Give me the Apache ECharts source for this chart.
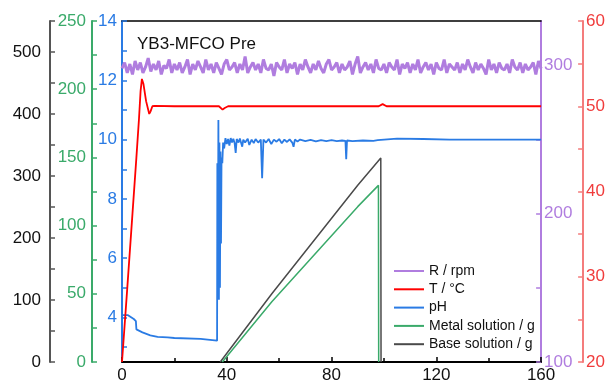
<!DOCTYPE html>
<html>
<head>
<meta charset="utf-8">
<script src="https://cdn.jsdelivr.net/npm/echarts@6/dist/echarts.min.js"></script>
<style>
  html, body { margin: 0; padding: 0; background: #fff; }
  #chart { width: 608px; height: 385px; }
</style>
</head>
<body>
<div id="chart"></div>
<script>
// stirring speed, one reading per minute (0..160)
const rpmVals = [
  298,302,295,301,294,303,297,302,295,299,305,296,301,297,303,294,300,298,304,295,
  301,297,302,295,299,304,294,301,297,303,299,295,304,297,301,295,302,298,294,301,
  304,297,299,302,295,301,297,306,295,299,302,297,301,295,304,298,297,301,293,302,
  299,297,304,295,301,298,302,294,301,297,304,299,295,301,297,303,298,295,301,304,
  297,299,302,295,301,297,299,303,294,301,306,295,299,302,297,301,295,304,298,297,
  301,295,302,299,297,304,294,301,298,302,295,301,297,304,295,299,302,297,301,294,
  302,298,297,304,295,301,299,297,302,295,301,297,304,299,295,302,297,301,298,294,
  304,297,301,295,302,298,297,301,295,304,299,297,302,295,301,297,299,302,294,303,
  298
];

const tempTime = [0, 2, 4, 5.5, 6.5, 7.1, 7.6, 8.2, 9.2, 10.4, 10.9, 11.6, 12.4, 20, 37, 38.4, 39.2, 40.5, 98, 99.5, 101, 160];
const tempVals = [20, 28.6, 37.4, 44, 48.6, 51.8, 53.2, 52.6, 50.6, 49.1, 49.4, 50, 50.05, 50, 50, 49.6, 49.8, 50, 50, 50.25, 50, 50];

const phTime = [
  0, 2.3, 4.5, 5.3, 5.5, 7.8, 10.8, 13.6, 17.4, 20, 30, 36.3,
  36.4, 36.6, 36.8, 37.0, 37.2, 37.4, 37.6, 37.8, 38.0, 38.3, 38.6, 39.0, 39.5,
  40, 40.5, 41, 41.5, 42, 42.5, 43, 43.4, 43.8, 44.5, 45, 45.9, 46.3, 47, 48, 48.6,
  49.5, 50.3, 51, 52, 53, 53.5, 54, 55, 56, 57, 58, 59, 60, 61, 62, 63, 64, 65,
  65.5, 66, 67, 68, 70, 72, 74, 76, 78, 80, 82, 84, 85.3, 85.6, 85.9, 88, 92, 96,
  97.6, 98, 105, 115, 125, 135, 145, 160
];
const phVals = [
  4.08, 4.08, 3.95, 3.88, 3.6, 3.5, 3.4, 3.35, 3.33, 3.31, 3.28, 3.22,
  9.2, 5.5, 10.66, 4.6, 9.9, 5.0, 9.6, 6.5, 9.4, 9.2, 9.9, 9.7, 10.05,
  9.85, 10.02, 9.8, 10.05, 9.9, 10.03, 9.88, 9.55, 10.02, 9.9, 10.04, 9.76, 10.0, 9.9, 10.03, 9.82,
  10.0, 9.88, 10.02, 9.9, 10.0, 8.7, 10.0, 9.9, 10.02, 9.85, 10.0, 9.93, 10.02, 9.88, 10.0, 9.92, 10.01, 9.9,
  9.76, 10.0, 9.94, 10.0, 9.95, 9.99, 9.94, 9.98, 9.95, 9.98, 9.95, 9.97, 9.96, 9.34, 9.97, 9.95, 9.97, 9.96,
  9.98, 10.03, 10.03, 10.02, 10.0, 10.0, 10.0, 10.0
];

const metalTime = [38.3, 57.2, 90, 97.9, 98.0];
const metalVals = [0, 44.2, 113.9, 129.5, 0];

const baseTime = [37.5, 57.2, 90, 98.8, 98.9];
const baseVals = [0, 110, 285, 329, 0];

const phLabels = [4, 6, 8, 10, 12, 14];
const phTicks = [3, 4, 5, 6, 7, 8, 9, 10, 11, 12, 13, 14];
const baseLabels = [0, 100, 200, 300, 400, 500];
const rpmLabels = [100, 200, 300];
const rpmTicks = [100, 150, 200, 250, 300];

const FONT = 'Arial, "Liberation Sans", sans-serif';
const C = {
  ph: '#2a7be4',
  metal: '#3aaa6a',
  base: '#4a4a4a',
  rpm: '#b07ddf',
  temp: '#ff0000',
  tempAxis: '#f47c7c'
};

function pairs(xs, ys) {
  return xs.map((x, i) => [x, ys[i]]);
}

function yAxis(color, labelColor, extra) {
  return Object.assign({
    type: 'value',
    splitLine: { show: false },
    axisLine: { show: true, onZero: false, lineStyle: { color: color, width: 2 } },
    axisTick: { show: true, inside: true, length: 5, lineStyle: { color: color, width: 1.5 } },
    axisLabel: { color: labelColor, fontSize: 17, fontFamily: FONT }
  }, extra);
}

const chart = echarts.init(document.getElementById('chart'), null, { renderer: 'canvas' });

chart.setOption({
  animation: false,
  backgroundColor: '#fff',
  title: {
    text: 'YB3-MFCO Pre',
    left: 132,
    top: 31,
    textStyle: { fontSize: 17, fontWeight: 'normal', color: '#111', fontFamily: FONT }
  },
  legend: {
    orient: 'vertical',
    left: 389,
    top: 259,
    icon: 'rect',
    itemWidth: 30,
    itemHeight: 2,
    itemGap: 4.3,
    textStyle: { fontSize: 14, color: '#111', fontFamily: FONT, lineHeight: 14 },
    data: ['R / rpm', 'T / °C', 'pH', 'Metal solution / g', 'Base solution / g']
  },
  grid: { left: 122, right: 63, top: 21, bottom: 23 },
  xAxis: [
    {
      type: 'value',
      min: 0,
      max: 160,
      interval: 40,
      splitLine: { show: false },
      axisLine: { onZero: false, lineStyle: { color: '#000', width: 2 } },
      axisTick: { inside: true, length: 5, lineStyle: { color: '#000', width: 1.5 } },
      minorTick: { show: true, splitNumber: 2, length: 4, lineStyle: { color: '#000', width: 1.5 } },
      axisLabel: { color: '#111', fontSize: 17, fontFamily: FONT, margin: 5 }
    },
    {
      type: 'value',
      position: 'top',
      min: 0,
      max: 160,
      splitLine: { show: false },
      axisLine: { onZero: false, lineStyle: { color: '#000', width: 1.5 } },
      axisTick: { show: false },
      axisLabel: { show: false }
    }
  ],
  yAxis: [
    yAxis(C.ph, C.ph, {
      position: 'left', offset: 0, min: 2.5, max: 14,
      axisTick: { show: true, inside: true, length: 5, customValues: phTicks, lineStyle: { color: C.ph, width: 1.5 } },
      axisLabel: { color: C.ph, fontSize: 17, fontFamily: FONT, margin: 5, customValues: phLabels }
    }),
    yAxis(C.metal, C.metal, {
      position: 'left', offset: 30, min: 0, max: 250, interval: 50,
      minorTick: { show: true, splitNumber: 2, length: 5, lineStyle: { color: C.metal, width: 1.5 } },
      axisLabel: { color: C.metal, fontSize: 17, fontFamily: FONT, margin: 6 }
    }),
    yAxis('#555', '#111', {
      position: 'left', offset: 72, min: 0, max: 550, interval: 50,
      axisLabel: { color: '#111', fontSize: 17, fontFamily: FONT, margin: 9, customValues: baseLabels }
    }),
    yAxis(C.rpm, C.rpm, {
      position: 'right', offset: 0, min: 100, max: 330,
      axisTick: { show: true, inside: true, length: 5, customValues: rpmTicks, lineStyle: { color: C.rpm, width: 1.5 } },
      axisLabel: { color: C.rpm, fontSize: 17, fontFamily: FONT, margin: 3, customValues: rpmLabels }
    }),
    yAxis(C.tempAxis, '#f03c3c', {
      position: 'right', offset: 42, min: 20, max: 60, interval: 10,
      minorTick: { show: true, splitNumber: 2, length: 5, lineStyle: { color: C.tempAxis, width: 1.5 } },
      axisLabel: { color: '#f03c3c', fontSize: 17, fontFamily: FONT, margin: 3 }
    })
  ],
  series: [
    {
      name: 'Base solution / g', type: 'line', yAxisIndex: 2, symbol: 'none',
      data: pairs(baseTime, baseVals),
      lineStyle: { color: C.base, width: 1.5 }, itemStyle: { color: C.base }
    },
    {
      name: 'Metal solution / g', type: 'line', yAxisIndex: 1, symbol: 'none',
      data: pairs(metalTime, metalVals),
      lineStyle: { color: C.metal, width: 1.5 }, itemStyle: { color: C.metal }
    },
    {
      name: 'pH', type: 'line', yAxisIndex: 0, symbol: 'none',
      data: pairs(phTime, phVals),
      lineStyle: { color: C.ph, width: 1.8 }, itemStyle: { color: C.ph }
    },
    {
      name: 'T / °C', type: 'line', yAxisIndex: 4, symbol: 'none',
      data: pairs(tempTime, tempVals),
      lineStyle: { color: C.temp, width: 1.8 }, itemStyle: { color: C.temp }
    },
    {
      name: 'R / rpm', type: 'line', yAxisIndex: 3, symbol: 'none',
      data: rpmVals.map((v, i) => [i, v]),
      lineStyle: { color: C.rpm, width: 3 }, itemStyle: { color: C.rpm }
    }
  ]
});
</script>
</body>
</html>
